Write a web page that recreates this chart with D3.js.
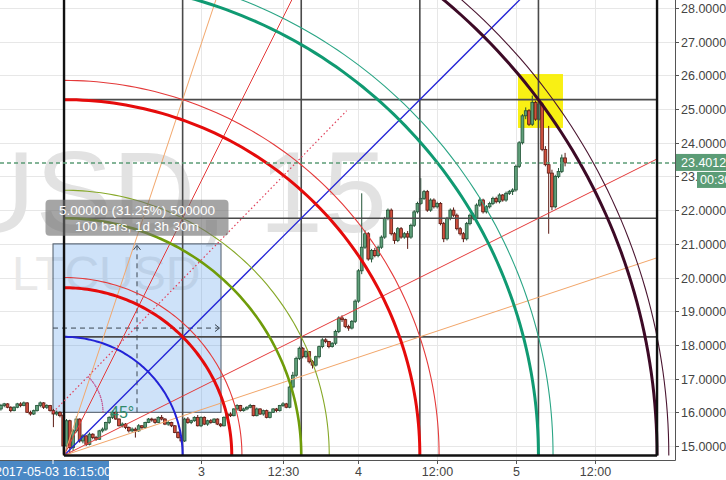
<!DOCTYPE html>
<html><head><meta charset="utf-8">
<script src="https://cdn.jsdelivr.net/npm/d3@7"></script>
<style>html,body{margin:0;padding:0;background:#fff;overflow:hidden}svg{display:block;font-family:Arial,"Liberation Sans",sans-serif}</style>
</head><body><svg id="c" width="726" height="480"></svg>
<script>
// ---------------- DATA ----------------
const priceTicks = [15,16,17,18,19,20,21,22,23,24,25,26,27,28];
const timeTickHours = [0, 12.5, 24, 36, 48, 60];          // hours from day "3" 00:00
const timeTickLabels = ["3","12:30","4","12:00","5","12:00"];
const barStartHour = -30.5, barStepHours = 0.5;
// [open, high, low, close]
const candles = [
[16.10,16.25,16.05,16.20],[16.20,16.28,16.15,16.25],[16.25,16.27,16.12,16.15],[16.15,16.18,16.00,16.05],
[16.05,16.18,16.03,16.15],[16.15,16.28,16.12,16.25],[16.25,16.30,16.15,16.20],[16.20,16.32,16.18,16.28],
[16.28,16.30,15.98,16.00],[16.00,16.05,15.90,15.95],[15.95,16.08,15.92,16.05],[16.05,16.22,16.02,16.20],
[16.20,16.32,16.15,16.28],[16.28,16.30,16.10,16.15],[16.15,16.24,16.10,16.20],[16.20,16.22,16.02,16.05],
[16.05,16.10,15.56,15.95],[15.95,16.05,15.90,16.00],[16.00,16.03,15.85,15.90],[15.90,15.95,14.75,15.00],
[15.00,15.80,14.85,15.75],[15.75,15.78,14.80,14.95],[14.95,15.50,14.85,15.45],[15.45,15.88,15.40,15.80],
[15.80,15.82,15.10,15.15],[15.15,15.35,15.08,15.30],[15.30,15.32,15.00,15.05],[15.05,15.40,15.02,15.35],
[15.35,15.38,15.20,15.25],[15.25,15.30,15.15,15.20],[15.20,15.48,15.18,15.45],[15.45,15.55,15.40,15.50],
[15.50,15.72,15.45,15.70],[15.70,15.88,15.65,15.85],[15.85,16.05,15.80,16.00],[16.00,16.02,15.78,15.80],
[15.80,15.82,15.58,15.60],[15.60,15.70,15.55,15.65],[15.65,15.68,15.50,15.55],[15.55,15.58,15.40,15.45],
[15.45,15.55,15.40,15.50],[15.50,15.55,15.25,15.45],[15.45,15.65,15.42,15.60],[15.60,15.62,15.50,15.55],
[15.55,15.72,15.52,15.70],[15.70,15.83,15.68,15.80],[15.80,15.84,15.72,15.78],[15.78,15.82,15.66,15.70],
[15.70,15.88,15.68,15.85],[15.85,15.92,15.76,15.80],[15.80,15.83,15.62,15.65],[15.65,15.74,15.60,15.70],
[15.70,15.72,15.56,15.60],[15.60,15.62,15.38,15.40],[15.40,15.44,15.22,15.25],[15.25,15.30,15.10,15.15],
[15.15,15.84,15.12,15.80],[15.80,15.86,15.66,15.70],[15.70,15.78,15.65,15.75],[15.75,15.88,15.72,15.85],
[15.85,15.92,15.58,15.60],[15.60,15.88,15.56,15.85],[15.85,15.88,15.62,15.65],[15.65,15.78,15.60,15.75],
[15.75,15.80,15.66,15.70],[15.70,15.82,15.68,15.80],[15.80,15.82,15.62,15.65],[15.65,15.68,15.56,15.60],
[15.60,15.88,15.58,15.85],[15.85,15.98,15.82,15.95],[15.95,16.00,15.86,15.90],[15.90,16.12,15.88,16.10],
[16.10,16.24,16.05,16.20],[16.20,16.22,16.02,16.05],[16.05,16.14,16.02,16.10],[16.10,16.18,16.06,16.15],
[16.15,16.25,16.12,16.20],[16.20,16.22,15.88,15.90],[15.90,16.14,15.88,16.10],[16.10,16.12,15.92,15.95],
[15.95,16.08,15.90,16.05],[16.05,16.08,15.82,15.85],[15.85,16.02,15.82,16.00],[16.00,16.12,15.98,16.10],
[16.10,16.13,16.00,16.05],[16.05,16.22,16.02,16.20],[16.20,16.30,16.16,16.25],[16.25,16.28,16.12,16.15],
[16.15,16.80,16.12,16.75],[16.75,17.20,16.70,17.10],[17.10,17.65,17.05,17.60],[17.60,17.95,17.55,17.90],
[17.90,17.94,17.60,17.65],[17.65,17.84,17.60,17.80],[17.80,17.82,17.45,17.50],[17.50,17.55,17.30,17.40],
[17.40,17.68,17.36,17.65],[17.65,17.98,17.60,17.95],[17.95,18.20,17.90,18.15],[18.15,18.20,18.05,18.10],
[18.10,18.12,17.90,17.95],[17.95,18.08,17.92,18.05],[18.05,18.45,18.00,18.40],[18.40,18.85,18.35,18.80],
[18.80,18.88,18.68,18.75],[18.75,18.78,18.50,18.55],[18.55,18.60,18.42,18.50],[18.50,18.74,18.46,18.70],
[18.70,19.35,18.65,19.30],[19.30,20.25,19.25,20.20],[20.20,22.50,20.10,20.90],[20.90,21.40,20.85,21.30],
[21.30,21.35,20.50,20.55],[20.55,20.85,20.45,20.80],[20.80,20.88,20.60,20.65],[20.65,20.95,20.60,20.90],
[20.90,21.25,20.85,21.20],[21.20,21.80,21.15,21.75],[21.75,22.05,21.70,22.00],[22.00,22.05,21.25,21.30],
[21.30,21.35,21.00,21.10],[21.10,21.50,21.05,21.45],[21.45,21.50,21.15,21.20],[21.20,21.35,21.15,21.30],
[21.30,21.38,20.85,21.20],[21.20,21.60,21.15,21.55],[21.55,22.00,21.50,21.95],[21.95,22.25,21.90,22.20],
[22.20,22.95,22.15,22.35],[22.35,22.60,22.30,22.55],[22.55,22.60,21.95,22.00],[22.00,22.35,21.95,22.30],
[22.30,22.35,22.05,22.10],[22.10,22.25,22.05,22.20],[22.20,22.24,21.55,21.60],[21.60,21.65,21.05,21.15],
[21.15,21.80,21.10,21.75],[21.75,22.05,21.70,22.00],[22.00,22.08,21.80,21.85],[21.85,21.90,21.40,21.45],
[21.45,21.50,21.25,21.30],[21.30,21.35,21.05,21.15],[21.15,21.65,21.10,21.60],[21.60,21.90,21.55,21.85],
[21.85,21.92,21.70,21.75],[21.75,22.20,21.70,22.15],[22.15,22.38,22.10,22.30],[22.30,22.34,21.90,21.95],
[21.95,22.15,21.90,22.10],[22.10,22.25,22.05,22.20],[22.20,22.40,22.15,22.35],[22.35,22.40,22.20,22.25],
[22.25,22.50,22.20,22.45],[22.45,22.48,22.25,22.30],[22.30,22.55,22.25,22.50],[22.50,22.60,22.45,22.55],
[22.55,22.65,22.45,22.60],[22.60,23.35,22.55,23.30],[23.30,24.05,23.25,24.00],[24.00,24.85,23.95,24.80],
[24.80,25.05,24.70,24.95],[24.95,25.00,24.50,24.55],[24.55,25.40,24.50,25.20],[25.20,25.25,24.65,24.70],
[24.70,25.30,24.65,25.15],[25.15,25.20,23.75,23.80],[23.80,23.90,23.30,23.35],[23.35,24.50,21.30,23.10],
[23.10,23.20,22.00,22.10],[22.10,23.05,22.05,23.00],[23.00,23.25,22.95,23.15],[23.15,23.65,23.10,23.55],
[23.55,23.70,23.30,23.40128]
];
const lastPrice = 23.40128;
const lastPriceText = "23.40128";
const countdownText = "00:30";
const crosshairText = "2017-05-03 16:15:00";
const watermarkTitle = "LTCUSD, 15";
const watermarkSub = "LTCUSD";
// Gann square: origin time/price and one cell size
const gannOriginHour = -20.88, gannOriginPrice = 14.72;
const gannCellHours = 18.08, gannCellPrice = 3.52, gannCells = 5;
const gannArcLevels = [[1,0],[1,1],[1.5,0],[2,0],[2,1],[3,0],[3,1],[4,0],[4,1],[5,0],[5,1]];
const gannFanLevels = [[1,1],[2,1],[1,2],[3,1],[1,3]];   // [price cells, time cells]
// price/date range measurement
const rangeHours = [-22.56, 3.05], rangePrices = [16, 21];
const rangeText1 = "5.00000 (31.25%) 500000", rangeText2 = "100 bars, 1d 3h 30m";
// trend angle
const angleStart = [-22.56, 16.0], angleEnd = [22.2, 24.95], angleText = "45°";
// highlight rectangle
const highlightHours = [48.32, 55.18], highlightPrices = [24.44, 26.04];

// ---------------- STYLES ----------------
const W = 726, H = 480, plotR = 675, plotB = 460;
const arcStyle = {
 "1,0":["#2323d6",2], "1,1":["#e50b0b",3], "1.5,0":["#e43a3a",1.1],
 "2,0":["#6f9c0a",2.6], "2,1":["#86a828",1.1],
 "3,0":["#e50b0b",3], "3,1":["#e43a3a",1.1],
 "4,0":["#109a72",3], "4,1":["#2aa585",1.1],
 "5,0":["#3d0a26",3], "5,1":["#4a1530",1.1]};
const fanStyle = {"1,1":["#2323d6",1.3],"2,1":["#e43a3a",1],"1,2":["#e43a3a",1],"3,1":["#f2a66a",1],"1,3":["#f2a66a",1]};

const svg = d3.select("#c");
const x = d3.scaleLinear().domain([-201/6.56, (plotR-201)/6.56]).range([0, plotR]);
const y = d3.scaleLinear().domain([15, 28]).range([446, 8]);

svg.append("defs").append("clipPath").attr("id","clip").append("rect").attr("x",0).attr("y",0).attr("width",plotR).attr("height",plotB);
const plot = svg.append("g").attr("clip-path","url(#clip)");

// grid
plot.append("g").selectAll("line").data(priceTicks).join("line")
 .attr("x1",0).attr("x2",plotR).attr("y1",d=>Math.round(y(d))+0.5).attr("y2",d=>Math.round(y(d))+0.5)
 .attr("stroke","#e7e7e7").attr("stroke-width",1);
plot.append("g").selectAll("line").data(timeTickHours).join("line")
 .attr("y1",0).attr("y2",plotB).attr("x1",d=>Math.round(x(d))+0.5).attr("x2",d=>Math.round(x(d))+0.5)
 .attr("stroke","#e7e7e7").attr("stroke-width",1);

// watermark
plot.append("text").text(watermarkTitle).attr("x",387).attr("y",232).attr("text-anchor","end")
 .attr("font-size",115).attr("fill","#e2e2e2");
plot.append("text").text(watermarkSub).attr("x",12).attr("y",290)
 .attr("font-size",48).attr("fill","#e9e9e9");

// highlight rect
plot.append("rect").attr("x",x(highlightHours[0])).attr("width",x(highlightHours[1])-x(highlightHours[0]))
 .attr("y",y(highlightPrices[1])).attr("height",y(highlightPrices[0])-y(highlightPrices[1]))
 .attr("fill","#f8ef00").attr("opacity",0.92);

// range box (under candles, translucent)
const rx0 = x(rangeHours[0]), rx1 = x(rangeHours[1]), ry0 = y(rangePrices[1]), ry1 = y(rangePrices[0]);
plot.append("rect").attr("x",rx0).attr("y",ry0).attr("width",rx1-rx0).attr("height",ry1-ry0)
 .attr("fill","rgba(60,140,230,0.25)").attr("stroke","#4d5966").attr("stroke-width",1);

// candles
const cg = plot.append("g");
candles.forEach((c,i)=>{
  const t = barStartHour + i*barStepHours, cx = x(t);
  const up = c[3] >= c[0];
  const border = up ? "#225437" : "#5b1a13";
  const fill = up ? "#5f9f7a" : "#d0503e";
  cg.append("line").attr("x1",cx).attr("x2",cx).attr("y1",y(c[1])).attr("y2",y(c[2])).attr("stroke",border).attr("stroke-width",1);
  const top = y(Math.max(c[0],c[3])), bot = y(Math.min(c[0],c[3]));
  cg.append("rect").attr("x",cx-1.4).attr("width",2.8).attr("y",top).attr("height",Math.max(1,bot-top))
    .attr("fill",fill).attr("stroke",border).attr("stroke-width",0.8);
});

// range box dashed arrows
const mx = (rx0+rx1)/2, my = (ry0+ry1)/2;
plot.append("line").attr("x1",mx).attr("x2",mx).attr("y1",ry1).attr("y2",ry0+2).attr("stroke","#3a4652").attr("stroke-dasharray","5,4").attr("stroke-width",1);
plot.append("path").attr("d",`M${mx-3.5},${ry0+6}L${mx},${ry0+1.5}L${mx+3.5},${ry0+6}`).attr("fill","none").attr("stroke","#3a4652");
plot.append("line").attr("x1",rx0).attr("x2",rx1-2).attr("y1",my).attr("y2",my).attr("stroke","#3a4652").attr("stroke-dasharray","5,4").attr("stroke-width",1);
plot.append("path").attr("d",`M${rx1-6},${my-3.5}L${rx1-1.5},${my}L${rx1-6},${my+3.5}`).attr("fill","none").attr("stroke","#3a4652");

// gann square
const gg = plot.append("g");
const gT = k => gannOriginHour + k*gannCellHours, gP = k => gannOriginPrice + k*gannCellPrice;
d3.range(1,gannCells).forEach(k=>{
  gg.append("line").attr("x1",x(gT(k))).attr("x2",x(gT(k))).attr("y1",y(gP(0))).attr("y2",y(gP(gannCells))).attr("stroke","#4a4a4a").attr("stroke-width",1.6);
  gg.append("line").attr("y1",y(gP(k))).attr("y2",y(gP(k))).attr("x1",x(gT(0))).attr("x2",x(gT(gannCells))).attr("stroke","#4a4a4a").attr("stroke-width",1.6);
});
// fans
gannFanLevels.forEach(([b,a])=>{
  const s = Math.min(gannCells/a, gannCells/b);
  const st = fanStyle[b+","+a];
  gg.append("line").attr("x1",x(gT(0))).attr("y1",y(gP(0))).attr("x2",x(gT(a*s))).attr("y2",y(gP(b*s)))
    .attr("stroke",st[0]).attr("stroke-width",st[1]);
});
// arcs
const arcLine = d3.line().x(d=>x(d[0])).y(d=>y(d[1]));
gannArcLevels.forEach(([a,b])=>{
  const r = Math.hypot(a,b);
  const pts = d3.range(0, 91).map(deg=>{
    const th = deg*Math.PI/180;
    return [gT(r*Math.cos(th)), gP(r*Math.sin(th))];
  });
  const st = arcStyle[a+","+b];
  gg.append("path").attr("d",arcLine(pts)).attr("fill","none").attr("stroke",st[0]).attr("stroke-width",st[1]);
});
// outer borders
[[gT(0),gT(0),gP(0),gP(gannCells)],[gT(gannCells),gT(gannCells),gP(0),gP(gannCells)],[gT(0),gT(gannCells),gP(0),gP(0)]]
 .forEach(([t1,t2,p1,p2])=>gg.append("line").attr("x1",x(t1)).attr("x2",x(t2)).attr("y1",y(p1)).attr("y2",y(p2)).attr("stroke","#111").attr("stroke-width",2.4));

// trend angle
const ax0 = x(angleStart[0]), ay0 = y(angleStart[1]);
plot.append("line").attr("x1",ax0).attr("y1",ay0).attr("x2",x(angleEnd[0])).attr("y2",y(angleEnd[1]))
 .attr("stroke","#e0405a").attr("stroke-width",1.2).attr("stroke-dasharray","1.5,2.5");
const ang = Math.atan2(ay0-y(angleEnd[1]), x(angleEnd[0])-ax0);
plot.append("path").attr("d", d3.arc()({innerRadius:50,outerRadius:50,startAngle:Math.PI/2-ang,endAngle:Math.PI/2}))
 .attr("transform",`translate(${ax0},${ay0})`).attr("fill","none").attr("stroke","#c2508e").attr("stroke-width",1.2).attr("stroke-dasharray","1.5,2.5");
plot.append("text").text(angleText).attr("x",ax0+57).attr("y",ay0+6).attr("font-size",16).attr("fill","#2f8a6a");

// last price line
plot.append("line").attr("x1",0).attr("x2",plotR).attr("y1",y(lastPrice)).attr("y2",y(lastPrice))
 .attr("stroke","#5b9c76").attr("stroke-width",1.6).attr("stroke-dasharray","4,3");

// range label
const lw = 183, lh = 36, lx = mx - lw/2, ly = ry0 - 8 - lh;
plot.append("rect").attr("x",lx).attr("y",ly).attr("width",lw).attr("height",lh).attr("rx",4)
 .attr("fill","rgba(110,110,110,0.62)");
plot.append("text").text(rangeText1).attr("x",mx).attr("y",ly+15).attr("text-anchor","middle").attr("font-size",13.5).attr("fill","#fff");
plot.append("text").text(rangeText2).attr("x",mx).attr("y",ly+31).attr("text-anchor","middle").attr("font-size",13.5).attr("fill","#fff");

// axes
svg.append("line").attr("x1",plotR+0.5).attr("x2",plotR+0.5).attr("y1",0).attr("y2",plotB+0.5).attr("stroke","#555");
svg.append("line").attr("x1",0).attr("x2",plotR+0.5).attr("y1",plotB+0.5).attr("y2",plotB+0.5).attr("stroke","#555");
const ya = svg.append("g");
priceTicks.forEach(p=>{
  const yy = Math.round(y(p))+0.5;
  ya.append("line").attr("x1",plotR).attr("x2",plotR+4).attr("y1",yy).attr("y2",yy).attr("stroke","#555");
  ya.append("text").text(d3.format(".5f")(p)).attr("x",681).attr("y",yy+4.5).attr("font-size",12.5).attr("fill","#444");
});
const xa = svg.append("g");
timeTickHours.forEach((h,i)=>{
  const xx = Math.round(x(h))+0.5;
  xa.append("line").attr("x1",xx).attr("x2",xx).attr("y1",plotB).attr("y2",plotB+4).attr("stroke","#555");
  xa.append("text").text(timeTickLabels[i]).attr("x",xx).attr("y",476).attr("text-anchor","middle").attr("font-size",12.5).attr("fill","#444");
});
// last price label
const lpY = y(lastPrice);
svg.append("rect").attr("x",plotR+1).attr("y",lpY-9).attr("width",W-plotR).attr("height",17).attr("fill","#5b9c76");
svg.append("text").text(lastPriceText).attr("x",681).attr("y",lpY+4.5).attr("font-size",12.5).attr("fill","#fff");
svg.append("rect").attr("x",697).attr("y",lpY+9).attr("width",W-697).attr("height",16).attr("fill","#5b9c76");
svg.append("text").text(countdownText).attr("x",700).attr("y",lpY+21.5).attr("font-size",12.5).attr("fill","#fff");
// crosshair time label
const chx = x(rangeHours[0]);
svg.append("rect").attr("x",chx-56).attr("y",plotB+1).attr("width",112).attr("height",H-plotB).attr("fill","#4a88c5");
svg.append("text").text(crosshairText).attr("x",chx).attr("y",476).attr("text-anchor","middle").attr("font-size",12.5).attr("fill","#fff");
svg.append("line").attr("x1",chx).attr("x2",chx).attr("y1",plotB).attr("y2",plotB+4).attr("stroke","#fff");
</script></body></html>
